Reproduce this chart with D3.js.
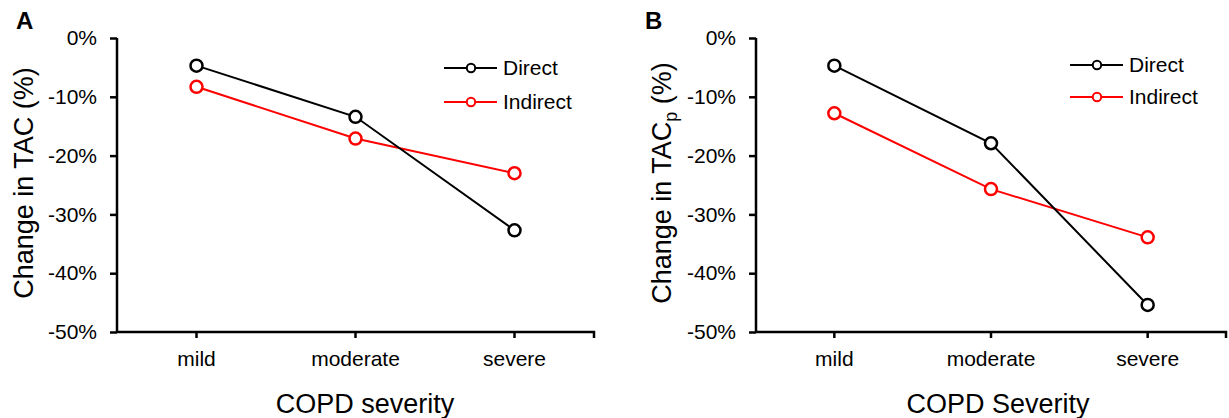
<!DOCTYPE html>
<html>
<head>
<meta charset="utf-8">
<script src="https://d3js.org/d3.v7.min.js"></script>
<style>
  body { margin: 0; background: #fff; }
  svg text { font-family: "Liberation Sans", Arial, sans-serif; }
</style>
</head>
<body>
<div id="chart-container"></div>
<script>
// categories and series values (percent change)
const severity = ["mild", "moderate", "severe"];
const seriesNames = ["Direct", "Indirect"];
const seriesColors = ["#000000", "#ff0000"];
const yTicks = [0, -10, -20, -30, -40, -50];

const tacDirect = [-4.7, -13.4, -32.7];
const tacIndirect = [-8.3, -17.1, -23.0];
const tacpDirect = [-4.7, -17.9, -45.4];
const tacpIndirect = [-12.8, -25.7, -33.9];

const width = 1229, height = 418;

const svg = d3.select("#chart-container")
  .append("svg")
  .attr("width", width)
  .attr("height", height);

// one panel
function panel(opts) {
  const g = svg.append("g");

  const xscale = d3.scaleBand().domain(severity).range([opts.x0, opts.x1]);
  const yscale = d3.scaleLinear().domain([-50, 0]).range([332, 38]);

  // y axis
  const yAxis = g.append("g")
    .attr("transform", `translate(${opts.x0},0)`)
    .call(d3.axisLeft(yscale).tickValues(yTicks).tickSize(7).tickPadding(13)
      .tickFormat(d => d + "%"));
  yAxis.select(".domain").attr("stroke-width", 2.5).attr("d", `M0,38V332`);
  yAxis.selectAll(".tick line").attr("stroke-width", 2.5);
  yAxis.selectAll(".tick text").attr("font-size", 21).attr("fill", "#000");

  // x axis
  const xAxis = g.append("g")
    .attr("transform", `translate(0,332)`)
    .call(d3.axisBottom(xscale).tickSize(6).tickPadding(13));
  xAxis.selectAll(".tick").attr("transform", d => `translate(${xscale(d) + xscale.bandwidth() / 2},0)`);
  xAxis.select(".domain").attr("stroke-width", 2.5).attr("d", `M${opts.x0},0H${opts.x1}v6`);
  xAxis.selectAll(".tick line").attr("stroke-width", 2.5);
  xAxis.selectAll(".tick text").attr("font-size", 21).attr("fill", "#000");

  const cx = d => xscale(d) + xscale.bandwidth() / 2;
  const line = d3.line().x((d, i) => cx(severity[i])).y(d => yscale(d));

  // draw series (Indirect first so Direct sits on top)
  [1, 0].forEach(s => {
    const vals = opts.series[s];
    g.append("path")
      .datum(vals)
      .attr("fill", "none")
      .attr("stroke", seriesColors[s])
      .attr("stroke-width", 2)
      .attr("d", line);
    g.selectAll(null)
      .data(vals)
      .enter()
      .append("circle")
      .attr("cx", (d, i) => cx(severity[i]))
      .attr("cy", d => yscale(d))
      .attr("r", 6)
      .attr("fill", "#fff")
      .attr("stroke", seriesColors[s])
      .attr("stroke-width", 2.5);
  });

  // legend
  seriesNames.forEach((name, s) => {
    const ly = opts.legY[s];
    const lg = g.append("g").attr("transform", `translate(${opts.legX},${ly})`);
    lg.append("line").attr("x1", 0).attr("x2", 53).attr("y1", 0).attr("y2", 0)
      .attr("stroke", seriesColors[s]).attr("stroke-width", 2);
    lg.append("circle").attr("cx", 27).attr("cy", 0).attr("r", 4.2)
      .attr("fill", "#fff").attr("stroke", seriesColors[s]).attr("stroke-width", 2);
    lg.append("text").attr("x", 59).attr("dy", "0.35em").attr("font-size", 21).attr("fill", "#000").text(name);
  });

  // panel letter
  g.append("text").attr("x", opts.letterX).attr("y", 29)
    .attr("font-size", 24).attr("font-weight", "bold").text(opts.letter);

  // y title
  const yt = g.append("text")
    .attr("transform", `translate(${opts.yTitleX},183) rotate(-90)`)
    .attr("text-anchor", "middle")
    .attr("font-size", 27);
  yt.append("tspan").text(opts.yTitle);
  if (opts.yTitleSub) {
    yt.append("tspan").attr("font-size", 18).attr("dy", 6).text(opts.yTitleSub);
    yt.append("tspan").attr("dy", -6).text(" (%)");
  }

  // x title
  g.append("text")
    .attr("x", opts.xTitleX).attr("y", 413)
    .attr("text-anchor", "middle").attr("font-size", 27)
    .text(opts.xTitle);
}

panel({
  x0: 117, x1: 594, letter: "A", letterX: 16,
  series: [tacDirect, tacIndirect],
  legX: 444, legY: [68, 102],
  yTitle: "Change in TAC (%)", yTitleX: 33,
  xTitle: "COPD severity", xTitleX: 365
});

panel({
  x0: 756, x1: 1226, letter: "B", letterX: 645,
  series: [tacpDirect, tacpIndirect],
  legX: 1070, legY: [65, 97],
  yTitle: "Change in TAC", yTitleSub: "p", yTitleX: 671,
  xTitle: "COPD Severity", xTitleX: 998
});
</script>
</body>
</html>
